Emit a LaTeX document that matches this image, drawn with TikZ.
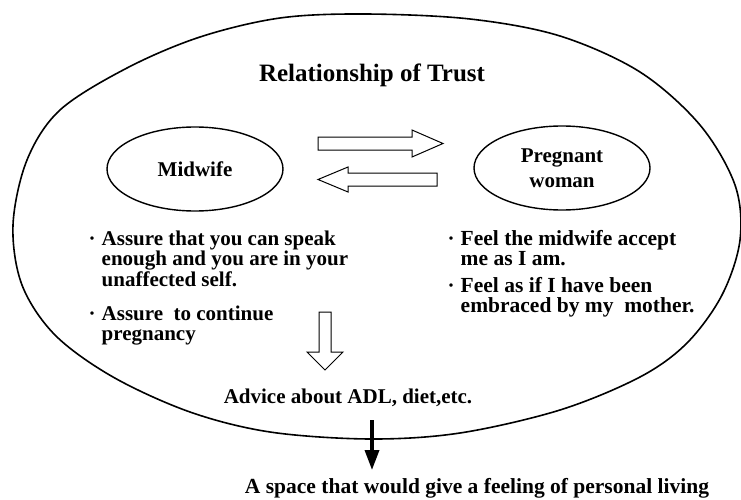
\documentclass[tikz,border=0pt]{standalone}
\usepackage{fontspec}
\setmainfont{Liberation Serif}
\usetikzlibrary{shapes.geometric,arrows.meta}
\begin{document}
\begin{tikzpicture}[x=1pt,y=-1pt,line width=1.4pt,
  txt/.style={anchor=base west,inner sep=0pt,font=\fontsize{21}{20.5}\selectfont\bfseries},
  rtxt/.style={anchor=base west,inner sep=0pt,font=\fontsize{21.5}{20.5}\selectfont\bfseries},
  bul/.style={anchor=base west,inner sep=0pt,font=\fontsize{21}{20.5}\selectfont\bfseries},
  oval/.style={draw,ellipse,minimum width=176pt,minimum height=84pt,inner sep=0pt,
    font=\fontsize{21}{25}\selectfont\bfseries,align=center},
  blockarrow/.style={draw,line width=1pt,fill=white}]
\useasboundingbox (0,0) rectangle (741,500);
% big outline
\draw[line width=1.6pt] plot[smooth cycle,tension=0.55] coordinates {
 (365,14) (470,19) (560,36) (640,72) (700,125) (735,185) (740,240) (722,295)
 (687,343) (640,377) (560,410) (460,433) (370,439) (270,432) (190,412) (113,377)
 (55,335) (22,285) (13,225) (27,160) (60,110) (127,68) (200,37) (280,18)};
\coordinate (bigbottom) at (372,420);
% title
\node[anchor=base,inner sep=0pt,font=\fontsize{25}{30}\selectfont\bfseries] (title) at (372,82) {Relationship of Trust};
% ovals
\node[oval] (mid) at (195,169) {Midwife};
\node[oval] (preg) at (562,168) {Pregnant\\woman};
% block arrows
\draw[blockarrow] (318,137) -- (412,137) -- (412,130) -- (443,143.5) -- (412,157) -- (412,150) -- (318,150) -- cycle;
\draw[blockarrow] (437,173) -- (348,173) -- (348,167) -- (318,179.5) -- (348,192) -- (348,186) -- (437,186) -- cycle;
\draw[blockarrow] (319,312) -- (331,312) -- (331,352) -- (343,352) -- (325,370) -- (307,352) -- (319,352) -- cycle;
% left bullets
\node[bul] (lb1) at (88,245) {·};
\node[txt] (l1) at (101,245) {Assure that you can speak};
\node[txt] (l2) at (101,265) {enough and you are in your};
\node[txt] (l3) at (101,286) {unaffected self.};
\node[bul] (lb2) at (88,320) {·};
\node[txt] (l4) at (101,320) {Assure\ \ to continue};
\node[txt] (l5) at (101,340) {pregnancy};
% right bullets
\node[bul] (rb1) at (447,245) {·};
\node[rtxt] (r1) at (460,245) {Feel the midwife accept};
\node[rtxt] (r2) at (460,265) {me as I am.};
\node[bul] (rb2) at (447,292) {·};
\node[rtxt] (r3) at (460,292) {Feel as if I have been};
\node[rtxt] (r4) at (460,312) {embraced by my\ \ mother.};
% advice
\node[anchor=base,inner sep=0pt,font=\fontsize{21}{25}\selectfont\bfseries] (adv) at (348,403) {Advice about ADL, diet,etc.};
% final
\node[anchor=base,inner sep=0pt,font=\fontsize{21.5}{25}\selectfont\bfseries] (final) at (477,493) {A space that would give a feeling of personal living};
\coordinate (arrowend) at (372,470);
\draw[line width=3.5pt,-{Triangle[width=14pt,length=20pt]}] (bigbottom) -- (arrowend);
\end{tikzpicture}
\end{document}
